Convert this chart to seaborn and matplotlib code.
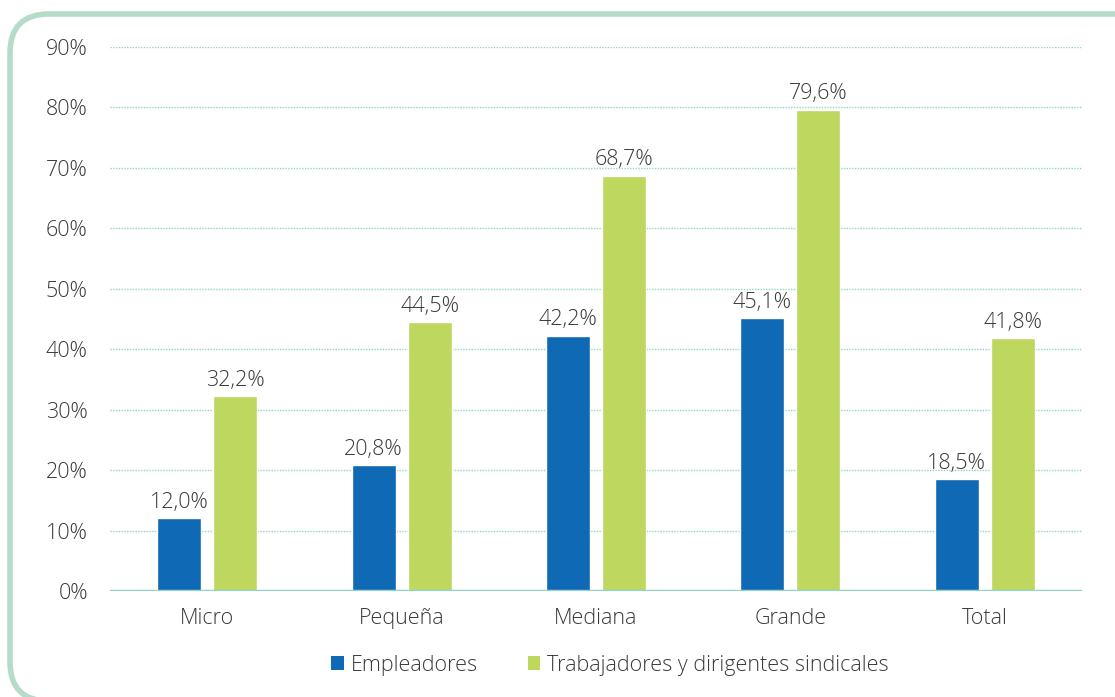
import matplotlib
matplotlib.use("Agg")
import matplotlib.pyplot as plt
import seaborn as sns
import pandas as pd
from matplotlib.patches import FancyBboxPatch, Patch

categorias = ["Micro", "Pequeña", "Mediana", "Grande", "Total"]
series = ["Empleadores", "Trabajadores y dirigentes sindicales"]
empleadores = [12.0, 20.8, 42.2, 45.1, 18.5]
trabajadores = [32.2, 44.5, 68.7, 79.6, 41.8]
yticks = [0, 10, 20, 30, 40, 50, 60, 70, 80, 90]

colores = ["#0f69b4", "#bed75f"]
texto = "#3a3a3a"
fs = 15.5

df = pd.DataFrame({
    "categoria": categorias * 2,
    "serie": [series[0]] * len(categorias) + [series[1]] * len(categorias),
    "valor": empleadores + trabajadores,
})

sns.set_theme(style="white")
plt.rcParams["font.family"] = ["Open Sans", "DejaVu Sans"]

fig = plt.figure(figsize=(11.15, 6.97), dpi=100)
ax = fig.add_axes([110 / 1115, 1 - 591 / 697, 972 / 1115, 544 / 697])

# rounded frame around the chart, open past the right and bottom edges
marco = FancyBboxPatch((10 / 1115, -4 / 697), 1.2, (683 - -4) / 697,
                       boxstyle="round,pad=0,rounding_size=0.035",
                       transform=fig.transFigure, fill=False,
                       edgecolor="#b5dccb", linewidth=4, zorder=0,
                       mutation_aspect=1115 / 697)
fig.patches.append(marco)

sns.barplot(data=df, x="categoria", y="valor", hue="serie",
            palette=colores, width=0.576, gap=0.215, saturation=1,
            legend=False, ax=ax, zorder=3)

ax.set_ylim(0, 90)
ax.set_xlim(-0.5, len(categorias) - 0.5)
ax.set_yticks(yticks)
ax.set_yticklabels([f"{v}%" for v in yticks])
ax.set_xlabel("")
ax.set_ylabel("")

for y in yticks[1:]:
    ax.axhline(y, color="#8fd6c6", linestyle=(0, (1, 1)), linewidth=1.0, zorder=1)
ax.axhline(0, color="#8fd6c6", linewidth=2.5, zorder=4)

for s in ax.spines.values():
    s.set_visible(False)
ax.tick_params(axis="both", length=0, colors=texto, labelsize=fs)
ax.tick_params(axis="y", pad=16)
ax.tick_params(axis="x", pad=12)
for lab in ax.get_xticklabels() + ax.get_yticklabels():
    lab.set_fontweight("light")

for cont in ax.containers:
    for bar in cont:
        h = bar.get_height()
        ax.text(bar.get_x() + bar.get_width() / 2, h + 0.9,
                f"{h:.1f}".replace(".", ",") + "%",
                ha="center", va="bottom", fontsize=fs, color=texto,
                fontweight="light", zorder=5)

handles = [Patch(facecolor=c, edgecolor="none") for c in colores]
fig.legend(handles, series, loc="center", bbox_to_anchor=(610 / 1115, 1 - 665 / 697),
           ncol=2, frameon=False, handlelength=0.6, handleheight=0.6,
           handletextpad=0.3, columnspacing=2.3, labelcolor=texto,
           prop={"weight": "light", "size": fs})

fig.savefig("out.png", dpi=100)
